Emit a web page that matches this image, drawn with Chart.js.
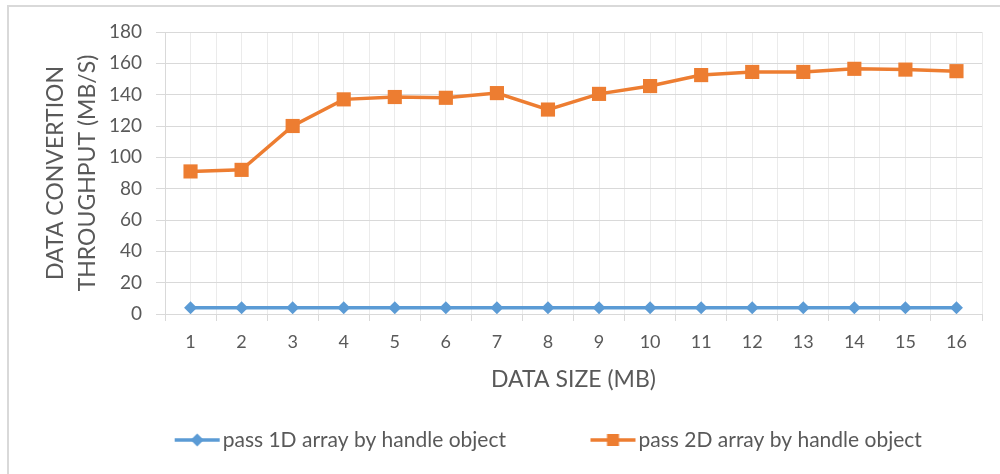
<!DOCTYPE html>
<html><head><meta charset="utf-8">
<script src="https://cdn.jsdelivr.net/npm/chart.js@4/dist/chart.umd.min.js"></script>
<style>
html,body{margin:0;padding:0;background:#fff;overflow:hidden;}
#wrap{position:relative;width:1000px;height:474px;overflow:hidden;}
#frame{position:absolute;left:7px;top:5px;width:1100px;height:600px;border-left:2px solid #d9d9d9;border-top:2px solid #d9d9d9;}
#c{position:absolute;left:0;top:0;}
</style></head>
<body><div id="wrap"><div id="frame"></div><canvas id="c" width="1000" height="474" style="width:1000px;height:474px"></canvas></div>
<script>
const categories = [1, 2, 3, 4, 5, 6, 7, 8, 9, 10, 11, 12, 13, 14, 15, 16];
const seriesNames = ['pass 1D array by handle object', 'pass 2D array by handle object'];
const pass1D = [4, 4, 4, 4, 4, 4, 4, 4, 4, 4, 4, 4, 4, 4, 4, 4];
const pass2D = [91, 92, 120, 137, 138.5, 138, 141, 130.5, 140.5, 145.5, 152.5, 154.5, 154.5, 156.5, 156, 155];
const yMin = 0, yMax = 180, yStep = 20;
const xTitle = 'DATA SIZE (MB)';
const yTitle = ['DATA CONVERTION', 'THROUGHPUT (MB/S)'];

const BLUE = '#5B9BD5', ORANGE = '#ED7D31', TEXT = '#595959';
const LEG_FS = 21, LEG_BW = 112;

function legendImage(color, shape) {
  const w = LEG_BW + LEG_FS - 4, h = 20;
  const c = document.createElement('canvas');
  c.width = w; c.height = h;
  const g = c.getContext('2d');
  const x0 = w - 46, x1 = w - 1, cx = (x0 + x1) / 2, cy = h / 2;
  g.strokeStyle = color; g.lineWidth = 3.5; g.lineCap = 'butt';
  g.beginPath(); g.moveTo(x0, cy); g.lineTo(x1, cy); g.stroke();
  g.fillStyle = color;
  g.beginPath();
  if (shape === 'diamond') {
    const r = 6.5;
    g.moveTo(cx, cy - r); g.lineTo(cx + r, cy); g.lineTo(cx, cy + r); g.lineTo(cx - r, cy); g.closePath();
  } else {
    const s = 6;
    g.rect(cx - s, cy - s, 2 * s, 2 * s);
  }
  g.fill();
  return c;
}

function draw() {
  Chart.defaults.font.family = 'Lato';
  Chart.defaults.color = TEXT;
  const imgs = [legendImage(BLUE, 'diamond'), legendImage(ORANGE, 'square')];
  new Chart(document.getElementById('c'), {
    type: 'line',
    data: {
      datasets: [
        {
          label: seriesNames[0],
          data: categories.map((c, i) => ({x: c, y: pass1D[i]})),
          borderColor: BLUE, backgroundColor: BLUE,
          borderWidth: 3.5, pointStyle: 'rectRot', pointRadius: 6.5,
          pointBorderWidth: 0, pointBackgroundColor: BLUE, tension: 0
        },
        {
          label: seriesNames[1],
          data: categories.map((c, i) => ({x: c, y: pass2D[i]})),
          borderColor: ORANGE, backgroundColor: ORANGE,
          borderWidth: 3.5, pointStyle: 'rect', pointRadius: 10,
          pointBorderWidth: 0, pointBackgroundColor: ORANGE, tension: 0
        }
      ]
    },
    options: {
      responsive: false,
      animation: false,
      layout: {padding: {left: 40, right: 18, top: 32, bottom: 13.5}},
      plugins: {
        tooltip: {enabled: false},
        legend: {
          position: 'bottom',
          labels: {
            usePointStyle: true,
            pointStyleWidth: LEG_BW,
            padding: 10,
            color: TEXT,
            font: {size: LEG_FS},
            generateLabels: chart => chart.data.datasets.map((d, i) => ({
              text: d.label, pointStyle: imgs[i], fillStyle: d.borderColor,
              strokeStyle: d.borderColor, lineWidth: 0, hidden: false, datasetIndex: i, fontColor: TEXT
            }))
          }
        }
      },
      scales: {
        x: {
          type: 'linear', min: 0.5, max: categories.length + 0.5,
          ticks: {
            stepSize: 0.5, autoSkip: false, maxRotation: 0, padding: 10,
            font: {size: 18}, color: TEXT,
            callback: v => Number.isInteger(v) ? String(categories[v - 1]) : ''
          },
          grid: {
            color: '#ebebeb', lineWidth: 1, tickLength: 7,
            tickColor: ctx => (ctx.tick && Number.isInteger(ctx.tick.value)) ? 'rgba(0,0,0,0)' : '#d9d9d9'
          },
          border: {color: '#d9d9d9', width: 1},
          title: {display: true, text: xTitle, color: TEXT, font: {size: 23}, padding: {top: 3.6, bottom: 25.7}}
        },
        y: {
          min: yMin, max: yMax,
          ticks: {stepSize: yStep, padding: 14, font: {size: 19}, color: TEXT},
          grid: {color: '#d9d9d9', lineWidth: 1, tickLength: 9, tickColor: '#d9d9d9'},
          border: {color: '#d9d9d9', width: 1},
          title: {display: true, text: yTitle, color: TEXT, font: {size: 23, lineHeight: 1.39}, padding: {top: 0, bottom: -9}}
        }
      }
    }
  });
}
document.fonts.load('19px Lato').then(draw, draw);
</script>
</body></html>
